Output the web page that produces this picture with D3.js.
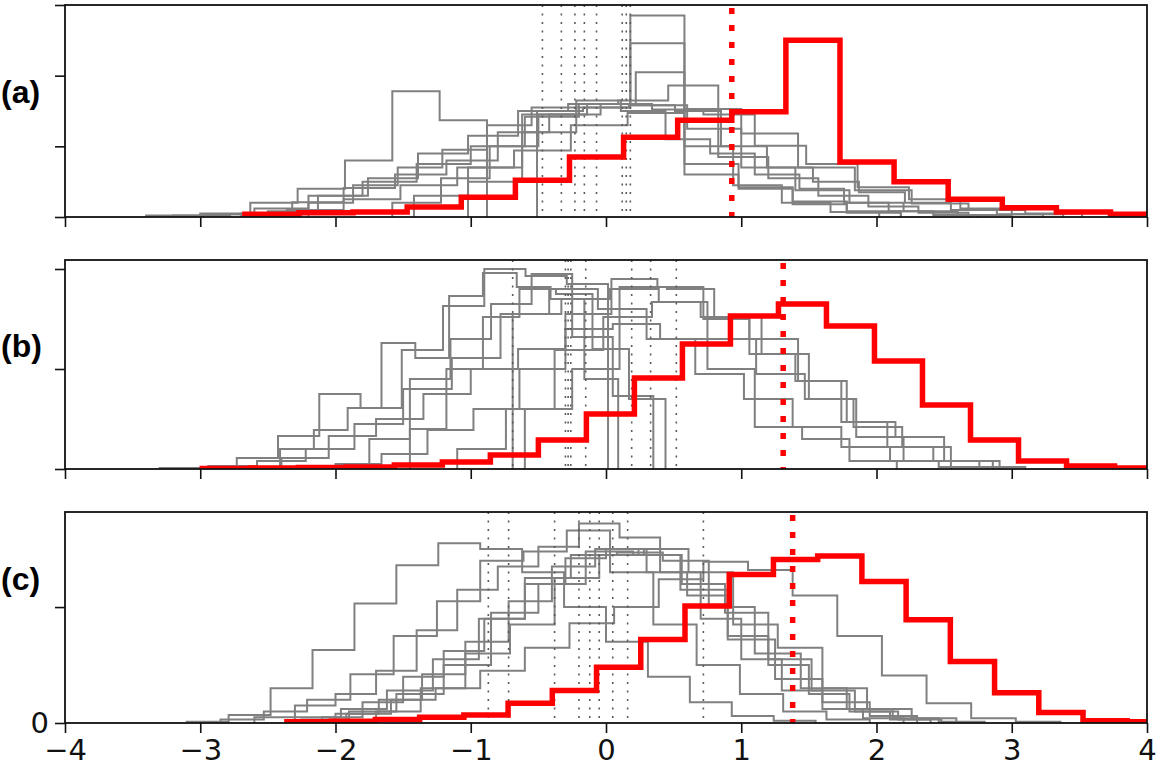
<!DOCTYPE html>
<html>
<head>
<meta charset="utf-8">
<script src="https://cdn.jsdelivr.net/npm/d3@7"></script>
<style>
  body { margin: 0; background: #fff; }
  svg { display: block; }
</style>
</head>
<body>
<svg id="chart"></svg>
<script>
// x ticks shared by all three panels
var xTicks = [-4, -3, -2, -1, 0, 1, 2, 3, 4];
var panelNames = ['(a)', '(b)', '(c)'];
var yMax = [3.0, 2.09, 1.82];
var yTicks = [[0, 1, 2, 3], [0, 1, 2], [0, 1]];

// red histograms: first edge, bin width, bin heights
var redA = { x0: -2.67, w: 0.4, h: [0.04, 0.06, 0.07, 0.14, 0.28, 0.52, 0.85, 1.13, 1.37, 1.49, 2.5, 0.78, 0.5, 0.25, 0.13, 0.07, 0.04] };
var redB = { x0: -2.985, w: 0.355, h: [0.005, 0.01, 0.015, 0.02, 0.04, 0.07, 0.14, 0.29, 0.55, 0.91, 1.25, 1.53, 1.65, 1.43, 1.08, 0.64, 0.29, 0.08, 0.03, 0.01] };
var redC = { x0: -2.359, w: 0.327, h: [0.01, 0.015, 0.03, 0.05, 0.07, 0.17, 0.28, 0.48, 0.72, 1.01, 1.28, 1.41, 1.44, 1.22, 0.89, 0.53, 0.26, 0.09, 0.02, 0.01] };

// red dotted marks
var redMean = [0.93, 1.31, 1.38];

// gray histograms
var grayA = [
    { x0: -1.02, w: 0.4, h: [0.5, 1.2, 1.55, 2.85, 0.6, 0.42, 0.22, 0.08] },
    { x0: -1.42, w: 0.4, h: [0.3, 0.7, 1.45, 1.6, 2.46, 0.75, 0.4, 0.18, 0.06] },
    { x0: -1.58, w: 0.36, h: [0.2, 0.55, 1.0, 1.45, 1.6, 2.05, 1.0, 0.45, 0.2, 0.07] },
    { x0: -2.5, w: 0.37, h: [0.08, 0.3, 0.55, 0.9, 1.15, 1.5, 1.6, 1.65, 1.86, 0.85, 0.55, 0.3, 0.15, 0.06] },
    { x0: -2.98, w: 0.35, h: [0.04, 0.2, 0.4, 0.8, 1.78, 1.37] },
    { x0: -3.4, w: 0.4, h: [0.02, 0.05, 0.12, 0.3, 0.5, 0.75, 1.0, 1.42, 1.6, 1.58, 1.25, 0.7, 0.38, 0.2, 0.08, 0.03] },
    { x0: -2.2, w: 0.33, h: [0.2, 0.45, 0.7, 0.95, 1.3, 1.55, 1.65, 1.5, 1.1, 0.9, 0.6, 0.4, 0.2, 0.08, 0.03] },
    { x0: -0.51, w: 0.34, h: [1.5, 1.55, 1.58, 1.5, 1.0, 0.7, 0.5, 0.35, 0.2, 0.1, 0.04] },
    { x0: -2.7, w: 0.38, h: [0.05, 0.21, 0.41, 0.6, 0.8, 1.2, 1.45, 1.6, 1.52, 1.45, 1.01, 0.75, 0.42, 0.25, 0.12, 0.04] },
    { x0: -3.2, w: 0.42, h: [0.02, 0.04, 0.1, 0.25, 0.45, 0.7, 0.94, 1.3, 1.47, 1.53, 1.18, 0.7, 0.38, 0.19, 0.1, 0.05] }
];
var grayB = [
    { x0: -2.73, w: 0.305, h: [0.11, 0.33, 0.75, 0.61, 1.19, 1.63, 2.0, 1.93, 1.85] },
    { x0: -2.41, w: 0.25, h: [0.2, 0.39, 0.61, 1.26, 1.11, 1.73, 1.96, 1.82, 1.7, 0.9] },
    { x0: -3.3, w: 0.36, h: [0.01, 0.03, 0.08, 0.2, 0.45, 0.8, 1.11, 1.55, 1.8, 1.6, 1.3, 0.95, 0.7, 0.42, 0.22, 0.08, 0.02] },
    { x0: -2.0, w: 0.34, h: [0.05, 0.15, 0.39, 0.6, 1.0, 1.55, 1.9, 1.82, 1.5, 1.15, 0.88, 0.47, 0.22, 0.08, 0.02] },
    { x0: -1.75, w: 0.3, h: [0.3, 0.9, 1.3, 1.65, 1.95, 1.32, 0.73] },
    { x0: -1.45, w: 0.27, h: [0.4, 1.0, 1.52, 1.8, 1.75, 1.2, 0.7] },
    { x0: -0.69, w: 0.36, h: [1.55, 1.7, 1.8, 1.67, 1.3, 0.95, 0.7, 0.42, 0.22, 0.08] },
    { x0: -1.1, w: 0.36, h: [0.2, 0.6, 1.19, 1.52, 1.67, 1.52, 1.3, 0.88, 0.47, 0.32, 0.08] },
    { x0: -0.6, w: 0.35, h: [0.6, 1.0, 1.82, 1.8, 1.52, 1.15, 0.7, 0.32, 0.08] },
    { x0: -2.4, w: 0.35, h: [0.11, 0.33, 0.5, 0.75, 1.0, 1.2, 1.4, 1.45, 1.3, 1.0, 0.42, 0.3, 0.08] }
];
var grayC = [
    { x0: -2.25, w: 0.33, h: [0.03, 0.08, 0.2, 0.3, 0.45, 0.65, 0.86, 1.0, 1.24, 1.39, 1.32, 1.1, 0.75, 0.41, 0.17, 0.04, 0.01] },
    { x0: -3.1, w: 0.31, h: [0.01, 0.07, 0.3, 0.63, 1.03, 1.36, 1.55, 1.5, 1.3, 1.0, 0.7, 0.4, 0.18, 0.06, 0.02] },
    { x0: -2.85, w: 0.32, h: [0.03, 0.1, 0.2, 0.42, 0.75, 1.05, 1.4, 1.48, 1.66, 1.3, 0.85, 0.5, 0.25, 0.1, 0.03] },
    { x0: -2.6, w: 0.3, h: [0.05, 0.15, 0.25, 0.45, 0.8, 1.15, 1.35, 1.52, 1.72, 1.6, 1.3, 0.9, 0.55, 0.28, 0.12, 0.04] },
    { x0: -2.3, w: 0.34, h: [0.05, 0.12, 0.28, 0.55, 0.9, 1.25, 1.45, 1.47, 1.4, 1.0, 0.6, 0.3, 0.12, 0.04, 0.01] },
    { x0: -2.0, w: 0.32, h: [0.08, 0.2, 0.42, 0.7, 1.05, 1.35, 1.5, 1.45, 1.2, 0.95, 0.55, 0.28, 0.1, 0.03] },
    { x0: -1.9, w: 0.35, h: [0.1, 0.25, 0.5, 0.95, 1.2, 1.48, 1.45, 1.15, 0.72, 0.38, 0.18, 0.06] },
    { x0: -1.7, w: 0.33, h: [0.1, 0.3, 0.6, 0.85, 1.25, 1.45, 1.5, 1.3, 0.85, 0.65, 0.3, 0.12, 0.04] },
    { x0: -2.1, w: 0.3, h: [0.05, 0.18, 0.4, 0.62, 0.9, 1.2, 1.42, 1.5, 1.3, 1.1, 0.75, 0.5, 0.25, 0.1, 0.03] }
];

// gray dotted marks
var grayMeanA = [-0.47, -0.33, -0.23, -0.16, -0.07, 0.12, 0.15, 0.18];
var grayMeanB = [-0.69, -0.3, -0.28, -0.26, -0.15, 0.19, 0.33, 0.52];
var grayMeanC = [-0.87, -0.72, -0.38, -0.2, -0.12, -0.05, 0.05, 0.16, 0.72];

var width = 1160,
    height = 779,
    left = 65,
    right = 1147,
    panelTop = [5, 260, 512],
    panelBottom = [217, 469, 723],
    labelY = [91, 345, 578];

var panels = [
    { red: redA, gray: grayA, means: grayMeanA },
    { red: redB, gray: grayB, means: grayMeanB },
    { red: redC, gray: grayC, means: grayMeanC }
];

var svg = d3.select('#chart')
    .attr('width', width)
    .attr('height', height);

svg.append('rect')
    .attr('width', width)
    .attr('height', height)
    .attr('fill', '#fff');

var x = d3.scaleLinear().domain([-4, 4]).range([left, right]);

function stepPoints(d) {
    var pts = [[d.x0, 0]];
    d.h.forEach(function (v, i) {
        pts.push([d.x0 + i * d.w, v], [d.x0 + (i + 1) * d.w, v]);
    });
    pts.push([d.x0 + d.h.length * d.w, 0]);
    return pts;
}

panels.forEach(function (p, i) {
    var y = d3.scaleLinear().domain([0, yMax[i]]).range([panelBottom[i], panelTop[i]]);
    var line = d3.line()
        .x(function (q) { return x(q[0]); })
        .y(function (q) { return y(q[1]); });

    var clipId = 'clip' + i;
    svg.append('clipPath')
        .attr('id', clipId)
        .append('rect')
        .attr('x', left)
        .attr('y', panelTop[i])
        .attr('width', right - left)
        .attr('height', panelBottom[i] - panelTop[i]);

    var g = svg.append('g').attr('clip-path', 'url(#' + clipId + ')');

    g.selectAll('path.gray')
        .data(p.gray)
        .enter()
        .append('path')
        .attr('class', 'gray')
        .attr('d', function (d) { return line(stepPoints(d)); })
        .attr('fill', 'none')
        .attr('stroke', '#808080')
        .attr('stroke-width', 2);

    g.selectAll('line.mean')
        .data(p.means)
        .enter()
        .append('line')
        .attr('x1', function (d) { return x(d); })
        .attr('x2', function (d) { return x(d); })
        .attr('y1', panelTop[i])
        .attr('y2', panelBottom[i])
        .attr('stroke', '#5a5a5a')
        .attr('stroke-width', 1.6)
        .attr('stroke-dasharray', '2,6.5');

    g.append('path')
        .attr('d', line(stepPoints(p.red)))
        .attr('fill', 'none')
        .attr('stroke', '#ff0000')
        .attr('stroke-width', 5.5);

    g.append('line')
        .attr('x1', x(redMean[i]))
        .attr('x2', x(redMean[i]))
        .attr('y1', panelTop[i] + 3)
        .attr('y2', panelBottom[i])
        .attr('stroke', '#ff0000')
        .attr('stroke-width', 5.5)
        .attr('stroke-dasharray', '6,11');

    // frame
    svg.append('rect')
        .attr('x', left)
        .attr('y', panelTop[i])
        .attr('width', right - left)
        .attr('height', panelBottom[i] - panelTop[i])
        .attr('fill', 'none')
        .attr('stroke', '#111')
        .attr('stroke-width', 1.8);

    var xAxis = svg.append('g')
        .attr('transform', 'translate(0,' + panelBottom[i] + ')')
        .call(d3.axisBottom(x)
            .tickValues(xTicks)
            .tickSize(10)
            .tickPadding(6)
            .tickFormat(i === 2 ? d3.format('d') : function () { return ''; }));

    var yAxis = svg.append('g')
        .attr('transform', 'translate(' + left + ',0)')
        .call(d3.axisLeft(y)
            .tickValues(yTicks[i])
            .tickSize(10)
            .tickPadding(6)
            .tickFormat(function (d) { return (i === 2 && d === 0) ? '0' : ''; }));

    [xAxis, yAxis].forEach(function (a) {
        a.select('.domain').remove();
        a.selectAll('.tick line').attr('stroke', '#111').attr('stroke-width', 1.6);
        a.selectAll('.tick text')
            .attr('fill', '#111')
            .style('font-family', 'DejaVu Sans, sans-serif')
            .style('font-size', '29px');
    });

    svg.append('text')
        .attr('x', 1)
        .attr('y', labelY[i])
        .attr('dy', '0.36em')
        .style('font-family', 'Liberation Sans, Arial, sans-serif')
        .style('font-weight', 'bold')
        .style('font-size', '32px')
        .attr('fill', '#000')
        .text(panelNames[i]);
});
</script>
</body>
</html>
